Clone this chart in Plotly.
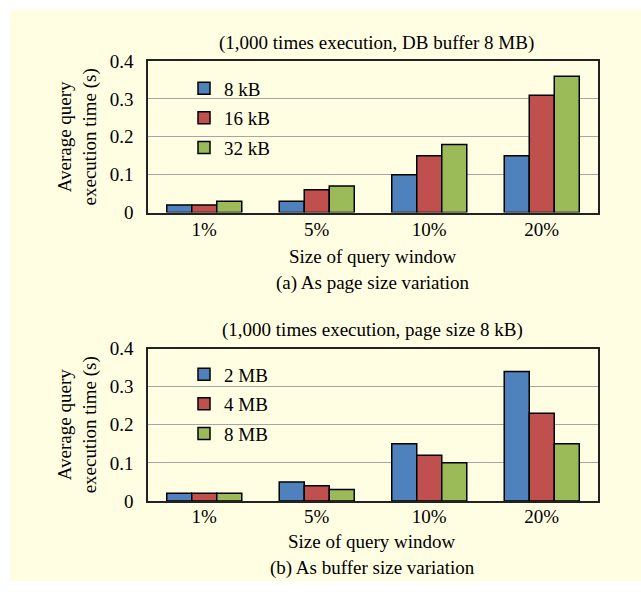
import plotly.graph_objects as go

categories = ["1%", "5%", "10%", "20%"]

# (a) page size variation
page_names = ["8 kB", "16 kB", "32 kB"]
page_8kb = [0.02, 0.03, 0.10, 0.15]
page_16kb = [0.02, 0.06, 0.15, 0.31]
page_32kb = [0.03, 0.07, 0.18, 0.36]

# (b) buffer size variation
buf_names = ["2 MB", "4 MB", "8 MB"]
buf_2mb = [0.02, 0.05, 0.15, 0.34]
buf_4mb = [0.02, 0.04, 0.12, 0.23]
buf_8mb = [0.02, 0.03, 0.10, 0.15]

colors = ["#4F81BD", "#C0504D", "#9BBB59"]
FONT = "Liberation Serif, Times New Roman, serif"
FS = 19
W, H = 641, 592
BG = "#FFFEE3"

fig = go.Figure()

for i, (name, vals) in enumerate(zip(page_names, [page_8kb, page_16kb, page_32kb])):
    fig.add_trace(go.Bar(x=categories, y=vals, name=name, marker_color=colors[i],
                         marker_line=dict(color="black", width=1.5),
                         xaxis="x", yaxis="y", legend="legend", legendgroup="a%d" % i))
for i, (name, vals) in enumerate(zip(buf_names, [buf_2mb, buf_4mb, buf_8mb])):
    fig.add_trace(go.Bar(x=categories, y=vals, name=name, marker_color=colors[i],
                         marker_line=dict(color="black", width=1.5),
                         xaxis="x2", yaxis="y2", legend="legend2", legendgroup="b%d" % i))

def py(y):
    return (H - y) / H

def px(x):
    return x / W

xdom = [px(148), px(598)]
axis_common = dict(showline=True, linecolor="#222222", linewidth=1.5, mirror=True,
                   tickfont=dict(family=FONT, size=FS, color="black"), ticks="")
yaxis_common = dict(axis_common, range=[0, 0.4], tickvals=[0, 0.1, 0.2, 0.3, 0.4],
                    ticktext=["0", "0.1", "0.2", "0.3", "0.4"], ticklabelstandoff=9,
                    showgrid=True, gridcolor="#A6A6A6", gridwidth=1, zeroline=False,
                    title=dict(text="Average query<br>execution time (s)",
                               font=dict(family=FONT, size=FS, color="black"), standoff=8))
xaxis_common = dict(axis_common, showgrid=False)

legend_common = dict(font=dict(family=FONT, size=FS, color="black"), bgcolor="rgba(0,0,0,0)",
                     tracegroupgap=2, xanchor="left", yanchor="top", itemclick=False)

def label(text, x, y):
    return dict(text=text, x=px(x), y=py(y), xref="paper", yref="paper",
                xanchor="center", yanchor="middle", showarrow=False,
                font=dict(family=FONT, size=FS, color="black"))

fig.update_layout(
    width=W, height=H,
    margin=dict(l=0, r=0, t=0, b=0),
    paper_bgcolor="white",
    plot_bgcolor="white",
    barmode="group", bargap=0.333, bargroupgap=0,
    xaxis=dict(xaxis_common, domain=xdom, anchor="y", ticklabelstandoff=-1),
    yaxis=dict(yaxis_common, domain=[py(210), py(53)], anchor="x"),
    xaxis2=dict(xaxis_common, domain=xdom, anchor="y2", ticklabelstandoff=-2),
    yaxis2=dict(yaxis_common, domain=[py(509), py(351)], anchor="x2"),
    legend=dict(legend_common, x=px(184), y=py(61.5)),
    legend2=dict(legend_common, x=px(184), y=py(358)),
    shapes=[dict(type="rect", xref="paper", yref="paper", x0=px(10), x1=1, y0=0, y1=1,
                 fillcolor=BG, line=dict(width=0), layer="below")],
    annotations=[
        label("(1,000 times execution, DB buffer 8 MB)", 376, 34.5),
        label("Size of query window", 373, 255.5),
        label("(a) As page size variation", 373, 283),
        label("(1,000 times execution, page size 8 kB)", 372, 332),
        label("Size of query window", 372, 551.5),
        label("(b) As buffer size variation", 372, 579),
    ],
)

post = (
    "var bgc='linear-gradient(to right, #ffffff 0px, #ffffff 10px, rgba(0,0,0,0) 10px),"
    "linear-gradient(to bottom, #ffffff 0px, #ffffff 9px, " + BG + " 9px)';"
    "document.documentElement.style.margin='0';"
    "document.documentElement.style.overflow='hidden';"
    "document.documentElement.style.minHeight='100%';"
    "document.documentElement.style.background=bgc;"
    "document.body.style.margin='0';document.body.style.padding='0';"
    "document.body.style.overflow='hidden';"
    "var gd=document.getElementById('{plot_id}');"
    "gd.style.position='fixed';gd.style.left='0px';gd.style.top='0px';"
)
fig.write_html("out.html", config={"displayModeBar": False, "responsive": False}, post_script=post)
